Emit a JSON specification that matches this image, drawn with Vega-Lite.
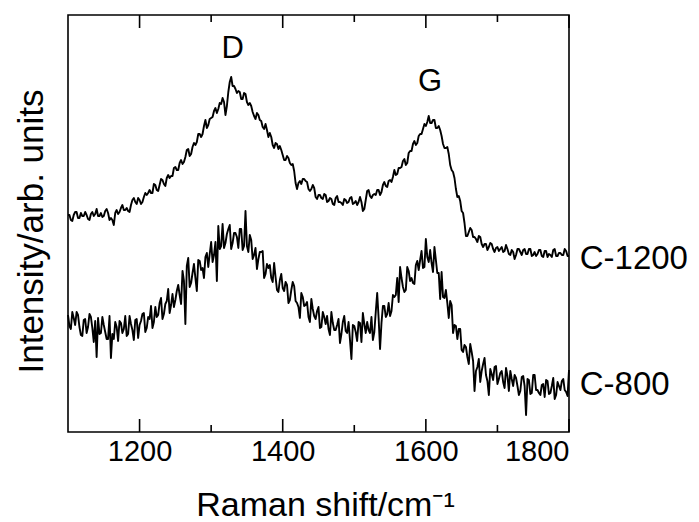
{
  "$schema": "https://vega.github.io/schema/vega-lite/v6.json",
  "width": 501,
  "height": 417,
  "autosize": {"type": "none"},
  "padding": {"left": 68, "top": 15, "right": 130, "bottom": 90},
  "config": {
    "font": "Liberation Sans",
    "view": {"stroke": "black", "strokeWidth": 1.6},
    "axis": {"grid": false, "domain": false, "labelColor": "black", "titleColor": "black", "titleFontWeight": "normal"}
  },
  "data": {"values": [
    {"x":1100,"a":217,"b":117},{"x":1102,"a":217,"b":106},{"x":1104,"a":212,"b":103},{"x":1106,"a":211,"b":120},{"x":1108,"a":217,"b":114},{"x":1110,"a":220,"b":107},
    {"x":1112,"a":220,"b":120},{"x":1114,"a":214,"b":117},{"x":1116,"a":214,"b":105},{"x":1118,"a":219,"b":97},{"x":1120,"a":216,"b":96},{"x":1122,"a":216,"b":112},
    {"x":1124,"a":220,"b":113},{"x":1126,"a":217,"b":99},{"x":1128,"a":213,"b":105},{"x":1130,"a":212,"b":118},{"x":1132,"a":218,"b":115},{"x":1134,"a":220,"b":104},
    {"x":1136,"a":216,"b":90},{"x":1138,"a":218,"b":111},{"x":1140,"a":223,"b":75},{"x":1142,"a":216,"b":114},{"x":1144,"a":216,"b":98},{"x":1146,"a":219,"b":99},
    {"x":1148,"a":215,"b":115},{"x":1150,"a":216,"b":107},{"x":1152,"a":221,"b":100},{"x":1154,"a":223,"b":93},{"x":1156,"a":219,"b":93},{"x":1158,"a":212,"b":116},
    {"x":1160,"a":214,"b":74},{"x":1162,"a":212,"b":98},{"x":1164,"a":207,"b":93},{"x":1166,"a":219,"b":110},{"x":1168,"a":222,"b":105},{"x":1170,"a":218,"b":91},
    {"x":1172,"a":220,"b":111},{"x":1174,"a":224,"b":109},{"x":1176,"a":227,"b":99},{"x":1178,"a":222,"b":103},{"x":1180,"a":222,"b":116},{"x":1182,"a":224,"b":96},
    {"x":1184,"a":221,"b":98},{"x":1186,"a":220,"b":116},{"x":1188,"a":227,"b":108},{"x":1190,"a":232,"b":102},{"x":1192,"a":234,"b":92},{"x":1194,"a":230,"b":112},
    {"x":1196,"a":228,"b":113},{"x":1198,"a":234,"b":94},{"x":1200,"a":232,"b":107},{"x":1202,"a":228,"b":111},{"x":1204,"a":230,"b":118},{"x":1206,"a":235,"b":119},
    {"x":1208,"a":239,"b":100},{"x":1210,"a":237,"b":104},{"x":1212,"a":239,"b":115},{"x":1214,"a":242,"b":113},{"x":1216,"a":239,"b":126},{"x":1218,"a":239,"b":104},
    {"x":1220,"a":248,"b":110},{"x":1222,"a":247,"b":125},{"x":1224,"a":242,"b":115},{"x":1226,"a":241,"b":117},{"x":1228,"a":247,"b":129},{"x":1230,"a":253,"b":134},
    {"x":1232,"a":252,"b":113},{"x":1234,"a":248,"b":118},{"x":1236,"a":246,"b":128},{"x":1238,"a":254,"b":131},{"x":1240,"a":257,"b":143},{"x":1242,"a":254,"b":119},
    {"x":1244,"a":256,"b":127},{"x":1246,"a":256,"b":138},{"x":1248,"a":264,"b":125},{"x":1250,"a":265,"b":132},{"x":1252,"a":262,"b":141},{"x":1254,"a":262,"b":147},
    {"x":1256,"a":269,"b":137},{"x":1258,"a":272,"b":128},{"x":1260,"a":268,"b":161},{"x":1262,"a":270,"b":151},{"x":1264,"a":275,"b":108},{"x":1266,"a":282,"b":166},
    {"x":1268,"a":283,"b":174},{"x":1270,"a":276,"b":145},{"x":1272,"a":278,"b":149},{"x":1274,"a":285,"b":159},{"x":1276,"a":289,"b":168},{"x":1278,"a":287,"b":154},
    {"x":1280,"a":290,"b":141},{"x":1282,"a":298,"b":172},{"x":1284,"a":298,"b":171},{"x":1286,"a":295,"b":162},{"x":1288,"a":298,"b":164},{"x":1290,"a":306,"b":154},
    {"x":1292,"a":312,"b":175},{"x":1294,"a":304,"b":179},{"x":1296,"a":307,"b":165},{"x":1298,"a":313,"b":178},{"x":1300,"a":314,"b":190},{"x":1302,"a":315,"b":170},
    {"x":1304,"a":321,"b":177},{"x":1306,"a":324,"b":190},{"x":1308,"a":319,"b":151},{"x":1310,"a":323,"b":206},{"x":1312,"a":329,"b":183},{"x":1314,"a":328,"b":186},
    {"x":1316,"a":334,"b":208},{"x":1318,"a":330,"b":184},{"x":1320,"a":317,"b":189},{"x":1322,"a":326,"b":198},{"x":1324,"a":340,"b":203},{"x":1326,"a":350,"b":207},
    {"x":1328,"a":355,"b":183},{"x":1330,"a":346,"b":189},{"x":1332,"a":346,"b":199},{"x":1334,"a":343,"b":199},{"x":1336,"a":339,"b":195},{"x":1338,"a":341,"b":184},
    {"x":1340,"a":340,"b":203},{"x":1342,"a":333,"b":203},{"x":1344,"a":333,"b":182},{"x":1346,"a":339,"b":186},{"x":1348,"a":338,"b":221},{"x":1350,"a":330,"b":186},
    {"x":1352,"a":327,"b":180},{"x":1354,"a":329,"b":197},{"x":1356,"a":326,"b":192},{"x":1358,"a":320,"b":173},{"x":1360,"a":316,"b":177},{"x":1362,"a":313,"b":184},
    {"x":1364,"a":319,"b":163},{"x":1366,"a":317,"b":173},{"x":1368,"a":312,"b":180},{"x":1370,"a":311,"b":180},{"x":1372,"a":305,"b":181},{"x":1374,"a":303,"b":154},
    {"x":1376,"a":308,"b":158},{"x":1378,"a":302,"b":168},{"x":1380,"a":295,"b":164},{"x":1382,"a":299,"b":167},{"x":1384,"a":295,"b":154},{"x":1386,"a":287,"b":150},
    {"x":1388,"a":284,"b":169},{"x":1390,"a":289,"b":155},{"x":1392,"a":288,"b":142},{"x":1394,"a":283,"b":140},{"x":1396,"a":286,"b":152},{"x":1398,"a":282,"b":158},
    {"x":1400,"a":277,"b":144},{"x":1402,"a":272,"b":141},{"x":1404,"a":272,"b":150},{"x":1406,"a":276,"b":147},{"x":1408,"a":274,"b":129},{"x":1410,"a":269,"b":132},
    {"x":1412,"a":267,"b":142},{"x":1414,"a":268,"b":150},{"x":1416,"a":261,"b":146},{"x":1418,"a":249,"b":131},{"x":1420,"a":243,"b":129},{"x":1422,"a":249,"b":125},
    {"x":1424,"a":251,"b":114},{"x":1426,"a":248,"b":139},{"x":1428,"a":253,"b":135},{"x":1430,"a":253,"b":126},{"x":1432,"a":251,"b":127},{"x":1434,"a":250,"b":130},
    {"x":1436,"a":243,"b":115},{"x":1438,"a":241,"b":110},{"x":1440,"a":243,"b":133},{"x":1442,"a":247,"b":123},{"x":1444,"a":244,"b":116},{"x":1446,"a":235,"b":113},
    {"x":1448,"a":233,"b":121},{"x":1450,"a":237,"b":125},{"x":1452,"a":237,"b":104},{"x":1454,"a":234,"b":105},{"x":1456,"a":233,"b":120},{"x":1458,"a":238,"b":115},
    {"x":1460,"a":237,"b":108},{"x":1462,"a":230,"b":116},{"x":1464,"a":231,"b":103},{"x":1466,"a":234,"b":97},{"x":1468,"a":233,"b":120},{"x":1470,"a":228,"b":109},
    {"x":1472,"a":227,"b":102},{"x":1474,"a":234,"b":102},{"x":1476,"a":236,"b":107},{"x":1478,"a":230,"b":113},{"x":1480,"a":230,"b":89},{"x":1482,"a":229,"b":98},
    {"x":1484,"a":227,"b":110},{"x":1486,"a":233,"b":116},{"x":1488,"a":232,"b":101},{"x":1490,"a":229,"b":99},{"x":1492,"a":230,"b":110},{"x":1494,"a":234,"b":92},
    {"x":1496,"a":235,"b":73},{"x":1498,"a":228,"b":107},{"x":1500,"a":229,"b":106},{"x":1502,"a":231,"b":100},{"x":1504,"a":227,"b":91},{"x":1506,"a":230,"b":110},
    {"x":1508,"a":235,"b":109},{"x":1510,"a":230,"b":90},{"x":1512,"a":221,"b":119},{"x":1514,"a":223,"b":108},{"x":1516,"a":232,"b":99},{"x":1518,"a":241,"b":110},
    {"x":1520,"a":242,"b":102},{"x":1522,"a":236,"b":99},{"x":1524,"a":234,"b":115},{"x":1526,"a":237,"b":92},{"x":1528,"a":238,"b":100},{"x":1530,"a":237,"b":120},
    {"x":1532,"a":242,"b":139},{"x":1534,"a":242,"b":114},{"x":1536,"a":237,"b":83},{"x":1538,"a":240,"b":109},{"x":1540,"a":247,"b":126},{"x":1542,"a":250,"b":126},
    {"x":1544,"a":246,"b":115},{"x":1546,"a":245,"b":118},{"x":1548,"a":251,"b":129},{"x":1550,"a":252,"b":116},{"x":1552,"a":250,"b":121},{"x":1554,"a":255,"b":137},
    {"x":1556,"a":262,"b":135},{"x":1558,"a":257,"b":137},{"x":1560,"a":258,"b":154},{"x":1562,"a":264,"b":130},{"x":1564,"a":264,"b":165},{"x":1566,"a":265,"b":154},
    {"x":1568,"a":271,"b":145},{"x":1570,"a":273,"b":140},{"x":1572,"a":267,"b":142},{"x":1574,"a":269,"b":165},{"x":1576,"a":279,"b":161},{"x":1578,"a":281,"b":151},
    {"x":1580,"a":281,"b":154},{"x":1582,"a":288,"b":149},{"x":1584,"a":291,"b":148},{"x":1586,"a":287,"b":167},{"x":1588,"a":289,"b":171},{"x":1590,"a":296,"b":162},
    {"x":1592,"a":298,"b":172},{"x":1594,"a":298,"b":181},{"x":1596,"a":303,"b":164},{"x":1598,"a":308,"b":165},{"x":1600,"a":306,"b":193},{"x":1602,"a":310,"b":175},
    {"x":1604,"a":316,"b":170},{"x":1606,"a":309,"b":182},{"x":1608,"a":309,"b":169},{"x":1610,"a":312,"b":160},{"x":1612,"a":312,"b":185},{"x":1614,"a":304,"b":172},
    {"x":1616,"a":304,"b":159},{"x":1618,"a":306,"b":159},{"x":1620,"a":302,"b":133},{"x":1622,"a":296,"b":160},{"x":1624,"a":288,"b":135},{"x":1626,"a":284,"b":134},
    {"x":1628,"a":284,"b":142},{"x":1630,"a":285,"b":129},{"x":1632,"a":278,"b":114},{"x":1634,"a":267,"b":131},{"x":1636,"a":262,"b":127},{"x":1638,"a":260,"b":99},
    {"x":1640,"a":254,"b":107},{"x":1642,"a":243,"b":106},{"x":1644,"a":235,"b":93},{"x":1646,"a":236,"b":103},{"x":1648,"a":231,"b":103},{"x":1650,"a":221,"b":82},
    {"x":1652,"a":219,"b":80},{"x":1654,"a":209,"b":87},{"x":1656,"a":196,"b":85},{"x":1658,"a":196,"b":75},{"x":1660,"a":200,"b":68},{"x":1662,"a":204,"b":88},
    {"x":1664,"a":202,"b":80},{"x":1666,"a":195,"b":71},{"x":1668,"a":195,"b":41},{"x":1670,"a":193,"b":61},{"x":1672,"a":190,"b":65},{"x":1674,"a":196,"b":73},
    {"x":1676,"a":195,"b":50},{"x":1678,"a":188,"b":61},{"x":1680,"a":185,"b":68},{"x":1682,"a":188,"b":74},{"x":1684,"a":188,"b":57},{"x":1686,"a":182,"b":51},
    {"x":1688,"a":185,"b":37},{"x":1690,"a":189,"b":63},{"x":1692,"a":188,"b":58},{"x":1694,"a":183,"b":52},{"x":1696,"a":180,"b":65},{"x":1698,"a":184,"b":66},
    {"x":1700,"a":185,"b":48},{"x":1702,"a":181,"b":53},{"x":1704,"a":183,"b":59},{"x":1706,"a":185,"b":61},{"x":1708,"a":180,"b":50},{"x":1710,"a":181,"b":44},
    {"x":1712,"a":187,"b":64},{"x":1714,"a":183,"b":56},{"x":1716,"a":178,"b":41},{"x":1718,"a":177,"b":61},{"x":1720,"a":182,"b":53},{"x":1722,"a":180,"b":46},
    {"x":1724,"a":173,"b":57},{"x":1726,"a":177,"b":54},{"x":1728,"a":183,"b":46},{"x":1730,"a":183,"b":37},{"x":1732,"a":180,"b":41},{"x":1734,"a":177,"b":55},
    {"x":1736,"a":182,"b":56},{"x":1738,"a":183,"b":46},{"x":1740,"a":178,"b":17},{"x":1742,"a":178,"b":53},{"x":1744,"a":183,"b":52},{"x":1746,"a":183,"b":38},
    {"x":1748,"a":176,"b":39},{"x":1750,"a":177,"b":57},{"x":1752,"a":180,"b":57},{"x":1754,"a":176,"b":42},{"x":1756,"a":178,"b":42},{"x":1758,"a":182,"b":39},
    {"x":1760,"a":182,"b":37},{"x":1762,"a":176,"b":47},{"x":1764,"a":175,"b":48},{"x":1766,"a":181,"b":35},{"x":1768,"a":181,"b":52},{"x":1770,"a":175,"b":51},
    {"x":1772,"a":178,"b":38},{"x":1774,"a":177,"b":39},{"x":1776,"a":175,"b":46},{"x":1778,"a":182,"b":54},{"x":1780,"a":183,"b":33},{"x":1782,"a":176,"b":37},
    {"x":1784,"a":176,"b":50},{"x":1786,"a":179,"b":46},{"x":1788,"a":179,"b":42},{"x":1790,"a":177,"b":51},{"x":1792,"a":177,"b":53},{"x":1794,"a":183,"b":42},
    {"x":1796,"a":181,"b":40},{"x":1798,"a":176,"b":36},{"x":1800,"a":176,"b":62}
  ]},
  "layer": [
    {
      "mark": {"type": "line", "color": "black", "strokeWidth": 1.9, "strokeJoin": "round"},
      "encoding": {
        "x": {"field": "x", "type": "quantitative", "scale": {"domain": [1100, 1800], "nice": false, "zero": false},
          "axis": {"orient": "bottom", "values": [1200, 1400, 1600, 1800], "format": "d", "ticks": false, "labelFontSize": 29, "labelPadding": 5,
            "title": "Raman shift/cm⁻¹", "titleFontSize": 34, "titleBaseline": "alphabetic", "titleX": 257, "titleY": 83, "titleAlign": "center"}},
        "y": {"field": "a", "type": "quantitative", "scale": {"domain": [0, 417], "nice": false, "zero": false},
          "axis": {"orient": "left", "ticks": false, "labels": false, "title": "Intensity/arb. units", "titleFontSize": 35,
            "titleBaseline": "alphabetic", "titleAngle": -90, "titleAlign": "center", "titleX": -26, "titleY": 216}}
      }
    },
    {
      "mark": {"type": "line", "color": "black", "strokeWidth": 1.9, "strokeJoin": "round"},
      "encoding": {
        "x": {"field": "x", "type": "quantitative"},
        "y": {"field": "b", "type": "quantitative"}
      }
    },
    {
      "data": {"values": [{"x": 1200}, {"x": 1400}, {"x": 1600}, {"x": 1800}]},
      "mark": {"type": "rule", "color": "black", "strokeWidth": 1.6},
      "encoding": {
        "x": {"field": "x", "type": "quantitative"},
        "y": {"datum": 0, "type": "quantitative"},
        "y2": {"datum": 13}
      }
    },
    {
      "data": {"values": [{"x": 1200}, {"x": 1400}, {"x": 1600}, {"x": 1800}]},
      "mark": {"type": "rule", "color": "black", "strokeWidth": 1.6},
      "encoding": {
        "x": {"field": "x", "type": "quantitative"},
        "y": {"datum": 404, "type": "quantitative"},
        "y2": {"datum": 417}
      }
    },
    {
      "data": {"values": [{"x": 1300}, {"x": 1500}, {"x": 1700}]},
      "mark": {"type": "rule", "color": "black", "strokeWidth": 1.6},
      "encoding": {
        "x": {"field": "x", "type": "quantitative"},
        "y": {"datum": 0, "type": "quantitative"},
        "y2": {"datum": 7}
      }
    },
    {
      "data": {"values": [{"x": 1300}, {"x": 1500}, {"x": 1700}]},
      "mark": {"type": "rule", "color": "black", "strokeWidth": 1.6},
      "encoding": {
        "x": {"field": "x", "type": "quantitative"},
        "y": {"datum": 410, "type": "quantitative"},
        "y2": {"datum": 417}
      }
    },
    {
      "data": {"values": [{"x": 1330, "y": 383, "t": "D"}, {"x": 1606, "y": 350, "t": "G"}]},
      "mark": {"type": "text", "fontSize": 31, "align": "center", "baseline": "middle", "color": "black"},
      "encoding": {
        "x": {"field": "x", "type": "quantitative"},
        "y": {"field": "y", "type": "quantitative"},
        "text": {"field": "t"}
      }
    },
    {
      "data": {"values": [{"x": 1815, "y": 173, "t": "C-1200"}, {"x": 1815, "y": 47, "t": "C-800"}]},
      "mark": {"type": "text", "fontSize": 33, "align": "left", "baseline": "middle", "color": "black"},
      "encoding": {
        "x": {"field": "x", "type": "quantitative"},
        "y": {"field": "y", "type": "quantitative"},
        "text": {"field": "t"}
      }
    }
  ]
}
